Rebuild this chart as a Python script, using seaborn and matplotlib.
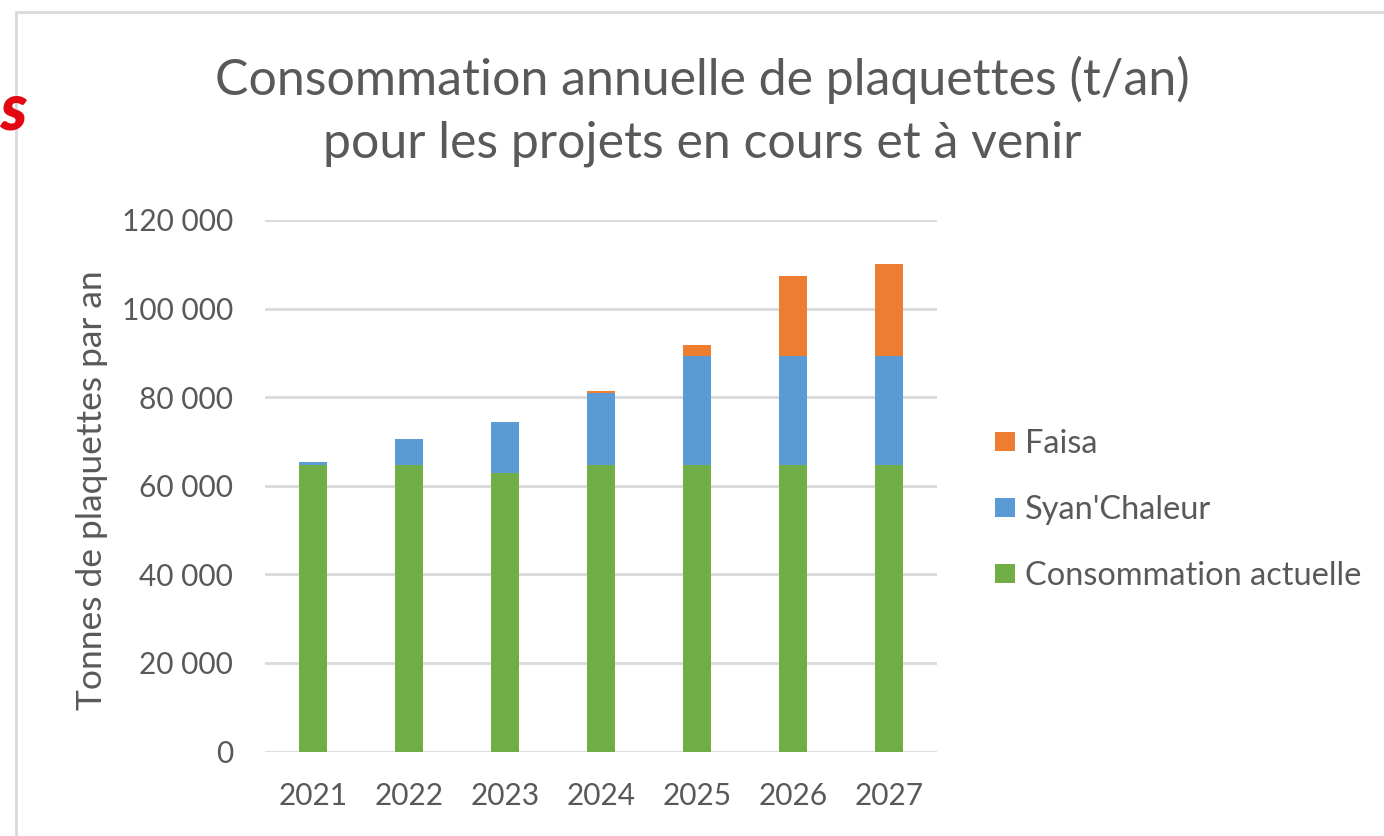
import matplotlib
matplotlib.use("Agg")
import matplotlib.pyplot as plt
import seaborn as sns
import pandas as pd
import numpy as np
from matplotlib.patches import Rectangle, Patch
from matplotlib.ticker import FuncFormatter

years = ["2021", "2022", "2023", "2024", "2025", "2026", "2027"]
conso_actuelle = [64700, 64700, 62800, 64700, 64700, 64700, 64700]
syan_chaleur = [700, 5900, 11700, 16300, 24700, 24700, 24700]
faisa = [0, 0, 0, 450, 2400, 18000, 20700]

title = "Consommation annuelle de plaquettes (t/an)\npour les projets en cours et à venir"
ylabel = "Tonnes de plaquettes par an"
labels = ["Faisa", "Syan'Chaleur", "Consommation actuelle"]
colors = {"Faisa": "#ED7D31", "Syan'Chaleur": "#5B9BD5", "Consommation actuelle": "#70AD47"}
text_color = "#595959"
grid_color = "#D9D9D9"

sns.set_theme(style="white")
plt.rcParams["font.family"] = ["Lato", "DejaVu Sans"]

W, H = 1384, 836
fig = plt.figure(figsize=(W / 100, H / 100), dpi=100)
fig.patch.set_facecolor("white")

# outer chart border (partially visible)
fig.patches.append(Rectangle((16 / W, -0.1), 2.0, 1.1 - 12 / H, transform=fig.transFigure,
                             fill=False, edgecolor=grid_color, linewidth=2))
fig.text(0 / W, 1 - 110 / H, "s", color="#E30613", fontsize=46, fontweight="heavy",
         fontstyle="italic", ha="left", va="center")

ax = fig.add_axes([265 / W, 1 - 751.5 / H, 672 / W, (751.5 - 220) / H])

df = pd.DataFrame({"year": years, "c": conso_actuelle, "s": syan_chaleur, "f": faisa})
df["cs"] = df["c"] + df["s"]
df["total"] = df["cs"] + df["f"]

bw = 0.29
sns.barplot(data=df, x="year", y="total", color=colors["Faisa"], width=bw, ax=ax,
            saturation=1, linewidth=0, zorder=3)
sns.barplot(data=df, x="year", y="cs", color=colors["Syan'Chaleur"], width=bw, ax=ax,
            saturation=1, linewidth=0, zorder=3)
sns.barplot(data=df, x="year", y="c", color=colors["Consommation actuelle"], width=bw, ax=ax,
            saturation=1, linewidth=0, zorder=3)

ax.set_ylim(0, 120000)
ax.set_xlim(-0.5, len(years) - 0.5)
ax.set_yticks(np.arange(0, 120001, 20000))
ax.yaxis.set_major_formatter(FuncFormatter(lambda v, p: f"{int(v):,}".replace(",", " ")))
ax.grid(axis="y", color=grid_color, linewidth=2, zorder=0)
ax.set_axisbelow(True)
for s in ax.spines.values():
    s.set_visible(False)
ax.tick_params(axis="both", length=0, labelsize=21.5, colors=text_color)
ax.tick_params(axis="y", pad=23)
ax.tick_params(axis="x", pad=22)
ax.set_xlabel("")
ax.set_ylabel("")
fig.text(92 / W, 1 - 490 / H, ylabel, rotation=90, ha="center", va="center",
         fontsize=25.5, color=text_color)

fig.text(702 / W, 1 - 111.5 / H, title, ha="center", va="center", fontsize=36,
         color=text_color, linespacing=1.45)

handles = [Patch(facecolor=colors[l], edgecolor="none") for l in labels]
fig.legend(handles, labels, loc="center left", bbox_to_anchor=(995 / W, 1 - 510 / H),
           frameon=False, fontsize=23.4, labelcolor=text_color, handlelength=0.62,
           handleheight=0.52, handletextpad=0.3, labelspacing=1.1, borderpad=0,
           borderaxespad=0)

fig.savefig("out.png", dpi=100, facecolor="white")
